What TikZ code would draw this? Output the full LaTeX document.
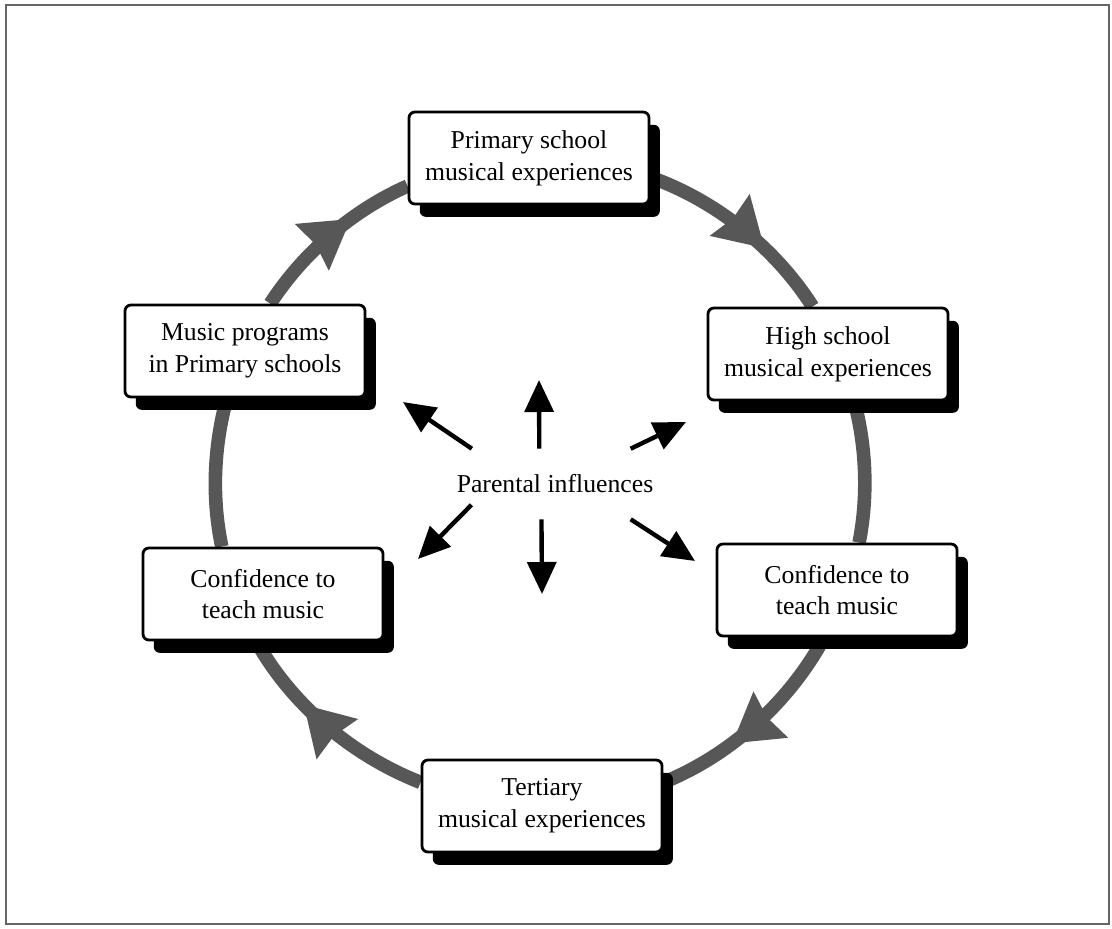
\documentclass[tikz,border=0pt]{standalone}
\usepackage{fontspec}
\setmainfont{Liberation Serif}
\usepackage{tikz}
\usetikzlibrary{arrows.meta,shadows,decorations.markings,backgrounds}
\definecolor{ringgrey}{HTML}{575757}
\definecolor{framegrey}{HTML}{666666}

\begin{document}
\begin{tikzpicture}[
  x=0.025cm, y=-0.025cm,
  box/.style={draw, line width=2pt, rounded corners=0.15cm, fill=white, minimum width=6cm, minimum height=2.3cm, align=center, font=\fontsize{18.3}{22.5}\selectfont, drop shadow={shadow xshift=0.27cm, shadow yshift=-0.32cm, fill=black, opacity=1}},
  ring/.style={line width=0.34cm, color=ringgrey},
  flow/.style={ring, postaction={decorate}, decoration={markings, mark=at position 0.64 with {\arrow{Stealth[length=1.2cm, width=1.45cm, inset=0.12cm, line width=0pt]}}}},
  arr/.style={-{Triangle[length=0.8cm, width=0.72cm]}, line width=0.11cm}
]
\useasboundingbox (0,0) rectangle (1112,928);
\draw[framegrey, line width=0.05cm] (6,5) rectangle (1109,924);

\node[box] (prim) at (529,158) {Primary school\\musical experiences};
\node[box] (high) at (828,354) {High school\\musical experiences};
\node[box] (confr) at (837,590) {Confidence to\\teach music};
\node[box] (tert) at (542,806) {Tertiary\\musical experiences};
\node[box] (confl) at (263,594) {Confidence to\\teach music};
\node[box] (music) at (245,351) {Music programs\\in Primary schools};

\begin{scope}[on background layer, looseness=0.86]
\draw[flow] (prim.-9) to[out=-19.7, in=122.5] (high.108);
\draw[ring] (high.-61) to[out=-75.3, in=79] (confr.65.5);
\draw[flow] (confr.255.4) to[out=-118.4, in=22.1] (tert.11.3);
\draw[flow] (tert.169.5) to[out=158.6, in=-60.8] (confl.262.6);
\draw[ring] (confl.131.2) to[out=101.8, in=-105.2] (music.249.1);
\draw[flow] (music.62.8) to[out=56.9, in=-156.1] (prim.193);
\end{scope}

\node[font=\fontsize{18.3}{22.5}\selectfont, inner xsep=-0.375cm, minimum height=1.75cm] (par) at (555,484) {Parental influences};
\coordinate (tul) at (403,402);
\coordinate (tu) at (539,380);
\coordinate (tur) at (686,422);
\coordinate (tll) at (418,559);
\coordinate (td) at (542,594);
\coordinate (tlr) at (695,561);

\draw[arr] (par.157.4) -- (tul);
\draw[arr] (par.114.6) -- (tu);
\draw[arr] (par.25.6) -- (tur);
\draw[arr] (par.194) -- (tll);
\draw[arr] (par.249.6) -- (td);
\draw[arr] (par.-25.9) -- (tlr);
\end{tikzpicture}
\end{document}
